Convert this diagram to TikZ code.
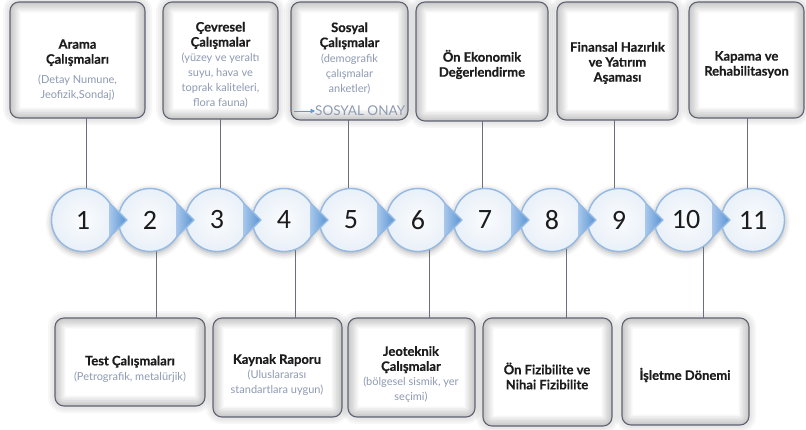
\documentclass[tikz,border=0pt]{standalone}
\usepackage{fontspec}
\setmainfont{Lato}[BoldFeatures={FakeBold=0.5}]
\newfontfamily\numfont{Carlito}
\usetikzlibrary{shadows.blur,arrows.meta,calc}
\definecolor{boxc}{HTML}{5E6272}
\definecolor{titc}{HTML}{1C1C1C}
\definecolor{subc}{HTML}{8E9AB2}
\definecolor{connc}{HTML}{6A6F7E}
\definecolor{cbord}{HTML}{93B9E4}
\definecolor{cin}{HTML}{FAFCFE}
\definecolor{cout}{HTML}{E9F0F8}
\definecolor{ptrL}{HTML}{A9C8EC}
\definecolor{ptrR}{HTML}{5592D2}
\definecolor{onayc}{HTML}{5B9BD5}
\newcommand\tb[1]{{\color{titc}\bfseries\fontsize{13}{15}\selectfont #1}}
\tikzset{
  box/.style={rounded corners=9pt, fill=white, inner sep=0pt, outer sep=0pt,
    preaction={draw=black, draw opacity=0.03, line width=14pt},
    preaction={draw=black, draw opacity=0.03, line width=10pt},
    preaction={draw=black, draw opacity=0.03, line width=6pt}},
  glow/.style={draw=black, draw opacity=0.03, rounded corners=9pt},
  boxline/.style={draw=boxc, line width=1.1pt, rounded corners=9pt},
  txt/.style={align=center, text=subc, font=\fontsize{11}{15}\selectfont, inner sep=0pt},
  conn/.style={draw=connc, line width=0.9pt},
  circ/.style={circle, draw=cbord, line width=1.4pt, minimum size=63pt, inner sep=0pt,
    inner color=cin, outer color=cout, font=\numfont\fontsize{28}{28}\selectfont, text=titc},
}
\begin{document}
\begin{tikzpicture}[x=1pt,y=-1pt]
\useasboundingbox (0,0) rectangle (806,429);
% top boxes
\node[box, minimum width=135pt, minimum height=116pt] (A) at (77.5,60) {};
\node[box, minimum width=115pt, minimum height=117pt] (B) at (220.5,60.5) {};
\node[box, minimum width=117pt, minimum height=118pt] (C) at (349.5,61) {};
\node[box, minimum width=132pt, minimum height=119pt] (D) at (482,61.5) {};
\node[box, minimum width=121pt, minimum height=118pt] (E) at (617.5,61) {};
\node[box, minimum width=115pt, minimum height=116pt] (F) at (746.5,60) {};
% bottom boxes
\node[box, minimum width=150pt, minimum height=88pt] (G) at (130,362) {};
\node[box, minimum width=129pt, minimum height=99pt] (H) at (277.5,367.5) {};
\node[box, minimum width=127pt, minimum height=99pt] (I) at (411.5,367.5) {};
\node[box, minimum width=129pt, minimum height=108pt] (J) at (547.5,372) {};
\node[box, minimum width=127pt, minimum height=107pt] (K) at (685.5,371.5) {};
% inner glow and borders
\foreach \n in {A,B,C,D,E,F,G,H,I,J,K}{
  \begin{scope}
    \clip[rounded corners=9pt] (\n.south west) rectangle (\n.north east);
    \foreach \w in {3,6,...,21}
      \draw[glow, line width=\w pt] (\n.south west) rectangle (\n.north east);
  \end{scope}
  \draw[boxline] (\n.south west) rectangle (\n.north east);
}
% circle shadows
\foreach \i in {1,...,11}
  \path[blur shadow={shadow xshift=0pt, shadow yshift=-2pt, shadow blur radius=6pt, shadow opacity=35}] ({83+67*(\i-1)},220) circle (31.5);
% connector anchors
\coordinate (a1) at ($(A.south)+(8.5,0)$);
\coordinate (b1) at ($(B.south)+(-0.5,0)$);
\coordinate (c1x) at ($(C.south)+(-1.5,0)$);
\coordinate (d1) at ($(D.south)+(0,0)$);
\coordinate (e1) at ($(E.south)+(-3.5,0)$);
\coordinate (f1) at ($(F.south)+(0.5,0)$);
\coordinate (g1) at ($(G.north)+(26,0)$);
\coordinate (h1) at ($(H.north)+(17.5,0)$);
\coordinate (i1) at ($(I.north)+(17.5,0)$);
\coordinate (j1) at ($(J.north)+(18.5,0)$);
\coordinate (k1) at ($(K.north)+(17.5,0)$);
\foreach \i in {1,...,11}
  \coordinate (p\i) at ({83+67*(\i-1)},220);
\draw[conn] (a1) -- (a1 |- p1);
\draw[conn] (b1) -- (b1 |- p3);
\draw[conn] (c1x) -- (c1x |- p5);
\draw[conn] (d1) -- (d1 |- p7);
\draw[conn] (e1) -- (e1 |- p9);
\draw[conn] (f1) -- (f1 |- p11);
\draw[conn] (g1) -- (g1 |- p2);
\draw[conn] (h1) -- (h1 |- p4);
\draw[conn] (i1) -- (i1 |- p6);
\draw[conn] (j1) -- (j1 |- p8);
\draw[conn] (k1) -- (k1 |- p10);
% circles
\foreach \i in {1,...,11}
  \node[circ] (c\i) at (p\i) {\i};
% pointers
\foreach \i in {1,...,10}{
  \shade[left color=ptrL, right color=ptrR] ($(c\i.center)+(26,-17)$) -- ($(c\i.center)+(44,0)$) -- ($(c\i.center)+(26,17)$) -- cycle;
  \draw[cbord, line width=1.4pt, line join=round] ($(c\i.center)+(26.7,-16.7)$) -- ($(c\i.center)+(44,0)$) -- ($(c\i.center)+(26.7,16.7)$);
}
% texts
\node[txt] (tA) at (77.5,70) {\tb{Arama}\\\tb{Çalışmaları}\\[5pt](Detay Numune,\\Jeofizik,Sondaj)};
\node[txt] (tB) at (220.5,65) {\tb{Çevresel}\\\tb{Çalışmalar}\\(yüzey ve yeraltı\\suyu, hava ve\\toprak kaliteleri,\\flora fauna)};
\node[txt] (tC) at (349.5,58) {\tb{Sosyal}\\\tb{Çalışmalar}\\(demografik\\çalışmalar\\anketler)};
\node[txt] (tD) at (482,64.5) {\tb{Ön Ekonomik}\\\tb{Değerlendirme}};
\node[txt] (tE) at (617.5,63) {\tb{Finansal Hazırlık}\\\tb{ve Yatırım}\\\tb{Aşaması}};
\node[txt] (tF) at (746.5,64.5) {\tb{Kapama ve}\\\tb{Rehabilitasyon}};
\node[txt] (tG) at (130,369) {\tb{Test Çalışmaları}\\(Petrografik, metalürjik)};
\node[txt] (tH) at (277,375) {\tb{Kaynak Raporu}\\(Uluslararası\\standartlara uygun)};
\node[txt] (tI) at (411,374.5) {\tb{Jeoteknik}\\\tb{Çalışmalar}\\(bölgesel sismik, yer\\seçimi)};
\node[txt] (tJ) at (547,376) {\tb{Ön Fizibilite ve}\\\tb{Nihai Fizibilite}};
\node[txt] (tK) at (685,375) {\tb{İşletme Dönemi}};
% sosyal onay
\node[txt, font=\fontsize{13.5}{14}\selectfont, anchor=west] (onay) at (315,111) {SOSYAL ONAY};
\coordinate (onayfrom) at (294,111);
\draw[onayc, line width=0.9pt, -{Triangle[length=4.5pt,width=4.5pt]}] (onayfrom) -- (onay.west);
\end{tikzpicture}
\end{document}
